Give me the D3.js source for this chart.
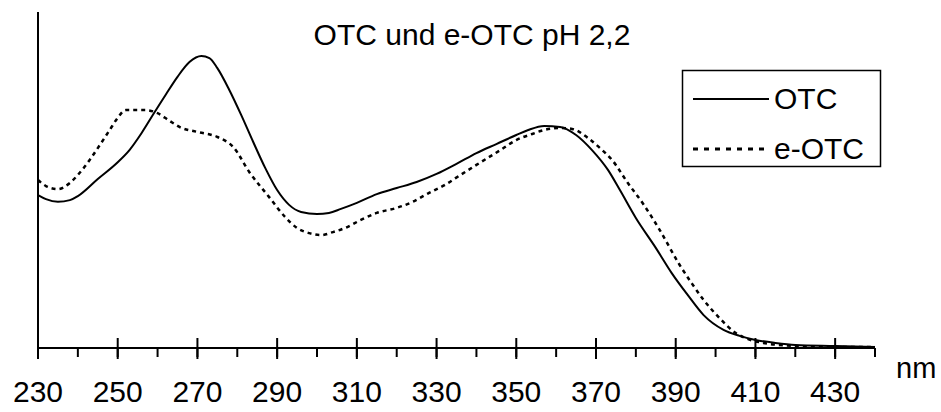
<!DOCTYPE html>
<html>
<head>
<meta charset="utf-8">
<script src="https://cdn.jsdelivr.net/npm/d3@7"></script>
<style>
  body { margin: 0; background: #fff; }
  svg { display: block; font-family: "Liberation Sans", Arial, sans-serif; }
</style>
</head>
<body>
<div id="chart"></div>
<script>
// wavelengths (nm) and absorbance (arbitrary units)
var otcNm = [230, 232, 235, 238, 240, 245, 250, 253, 256, 259, 262, 265, 268, 271, 273, 275, 278, 281, 284, 287,
  290, 293, 296, 300, 303, 306, 310, 315, 320, 325, 330, 335, 340, 345, 350, 353, 357, 361, 365, 369,
  373, 376, 380, 385, 389, 393, 397, 402, 406, 410, 415, 420, 430, 440];
var otcAbs = [0.455, 0.443, 0.435, 0.440, 0.452, 0.503, 0.553, 0.590, 0.640, 0.697, 0.753, 0.807, 0.851, 0.869, 0.863, 0.833, 0.768, 0.693, 0.613, 0.536,
  0.470, 0.426, 0.405, 0.399, 0.402, 0.414, 0.432, 0.458, 0.476, 0.494, 0.518, 0.548, 0.580, 0.607, 0.634, 0.649, 0.661, 0.658, 0.634, 0.589,
  0.530, 0.470, 0.387, 0.298, 0.223, 0.158, 0.098, 0.054, 0.036, 0.024, 0.015, 0.009, 0.006, 0.003];

var eotcNm = [230, 232, 235, 238, 240, 243, 245, 248, 250, 252, 255, 257, 260, 263, 266, 270, 275, 279, 283, 288,
  292, 295, 298, 301, 304, 307, 311, 315, 320, 324, 328, 332, 336, 340, 346, 350, 354, 357, 361, 364,
  368, 371, 374, 378, 382, 386, 391, 394, 397, 401, 405, 408, 412, 420, 430, 440];
var eotcAbs = [0.500, 0.482, 0.473, 0.491, 0.515, 0.560, 0.595, 0.649, 0.685, 0.708, 0.708, 0.708, 0.699, 0.676, 0.655, 0.643, 0.628, 0.598, 0.524, 0.449,
  0.390, 0.357, 0.342, 0.336, 0.345, 0.357, 0.381, 0.402, 0.417, 0.435, 0.461, 0.485, 0.515, 0.545, 0.589, 0.619, 0.637, 0.649, 0.655, 0.652,
  0.625, 0.595, 0.560, 0.491, 0.426, 0.351, 0.247, 0.193, 0.143, 0.089, 0.045, 0.027, 0.015, 0.006, 0.003, 0.003];

var seriesNames = ["OTC", "e-OTC"];
var majorTicks = [230, 250, 270, 290, 310, 330, 350, 370, 390, 410, 430];
var title = "OTC und e-OTC pH 2,2";
var unitLabel = "nm";

var width = 941, height = 412;
var margin = {top: 12, right: 66, bottom: 64, left: 38};

var svg = d3.select('#chart').append('svg')
    .attr('width', width)
    .attr('height', height);

var x = d3.scaleLinear()
    .domain([230, 440])
    .range([margin.left, width - margin.right]);

var y = d3.scaleLinear()
    .domain([0, 1])
    .range([height - margin.bottom, margin.top]);

var otc = otcNm.map(function(d, i) { return {nm: d, a: otcAbs[i]}; });
var eotc = eotcNm.map(function(d, i) { return {nm: d, a: eotcAbs[i]}; });

var line = d3.line()
    .x(function(d) { return x(d.nm); })
    .y(function(d) { return y(d.a); })
    .curve(d3.curveMonotoneX);

// curves
svg.append('path')
    .datum(eotc)
    .attr('fill', 'none')
    .attr('stroke', '#000')
    .attr('stroke-width', 2.5)
    .attr('stroke-dasharray', '4,4')
    .attr('d', line);

svg.append('path')
    .datum(otc)
    .attr('fill', 'none')
    .attr('stroke', '#000')
    .attr('stroke-width', 2)
    .attr('d', line);

// y axis (no ticks)
svg.append('line')
    .attr('x1', x(230)).attr('x2', x(230))
    .attr('y1', y(1)).attr('y2', y(0))
    .attr('stroke', '#000')
    .attr('stroke-width', 2);

// x axis: minor ticks every 10 nm, major ticks every 20 nm crossing the line
var minorTicks = d3.range(230, 441, 10);
var xAxis = svg.append('g')
    .attr('transform', 'translate(0,' + y(0) + ')');

xAxis.append('line')
    .attr('x1', x(230)).attr('x2', x(440))
    .attr('stroke', '#000')
    .attr('stroke-width', 2);

xAxis.selectAll('.minor')
    .data(minorTicks)
    .enter().append('line')
    .attr('class', 'minor')
    .attr('x1', function(d) { return x(d); })
    .attr('x2', function(d) { return x(d); })
    .attr('y1', 0).attr('y2', 9)
    .attr('stroke', '#000')
    .attr('stroke-width', 2);

xAxis.selectAll('.major')
    .data(majorTicks)
    .enter().append('line')
    .attr('class', 'major')
    .attr('x1', function(d) { return x(d); })
    .attr('x2', function(d) { return x(d); })
    .attr('y1', -10).attr('y2', 11)
    .attr('stroke', '#000')
    .attr('stroke-width', 2);

xAxis.selectAll('.lbl')
    .data(majorTicks)
    .enter().append('text')
    .attr('class', 'lbl')
    .attr('x', function(d) { return x(d); })
    .attr('y', 54)
    .attr('text-anchor', 'middle')
    .style('font-size', '30px')
    .text(function(d) { return d; });

svg.append('text')
    .attr('x', 896)
    .attr('y', 378)
    .style('font-size', '29px')
    .text(unitLabel);

// title
svg.append('text')
    .attr('x', 472)
    .attr('y', 45)
    .attr('text-anchor', 'middle')
    .style('font-size', '30px')
    .text(title);

// legend
var legend = svg.append('g');
legend.append('rect')
    .attr('x', 682.5).attr('y', 70.5)
    .attr('width', 198).attr('height', 96)
    .attr('fill', '#fff')
    .attr('stroke', '#000')
    .attr('stroke-width', 1.5);

var rows = [
  {name: seriesNames[0], dash: null, w: 2, yy: 99},
  {name: seriesNames[1], dash: '5,6', w: 3, yy: 149}
];
rows.forEach(function(r) {
  legend.append('line')
      .attr('x1', 693).attr('x2', 769)
      .attr('y1', r.yy).attr('y2', r.yy)
      .attr('stroke', '#000')
      .attr('stroke-width', r.w)
      .attr('stroke-dasharray', r.dash);
  legend.append('text')
      .attr('x', 774)
      .attr('y', r.yy + 10)
      .style('font-size', '30px')
      .text(r.name);
});
</script>
</body>
</html>
